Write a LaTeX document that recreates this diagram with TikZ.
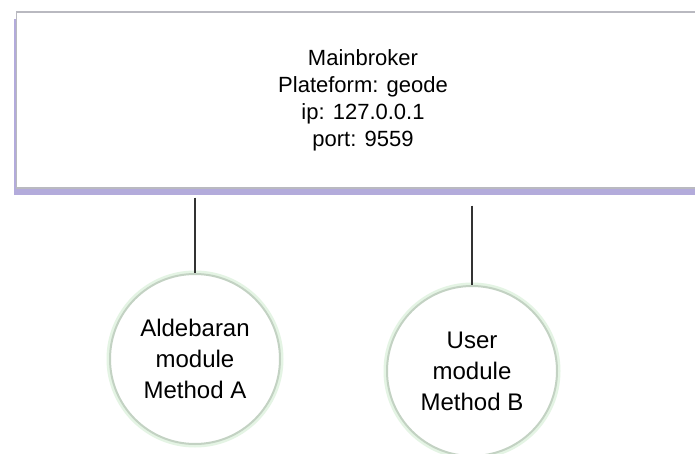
\documentclass[tikz,border=0pt]{standalone}
\usepackage{fontspec}
\setmainfont{Liberation Sans}
\usetikzlibrary{positioning}
\usetikzlibrary{shadows}
\definecolor{shadowviolet}{RGB}{160,150,210}
\definecolor{boxgray}{RGB}{185,185,192}
\definecolor{ringgreen}{RGB}{195,210,195}
\definecolor{glowgreen}{RGB}{228,244,228}
\tikzset{
  broker/.style={draw=boxgray, fill=white, line width=1.5pt, minimum width=693pt, minimum height=176pt,
    align=center, font=\fontsize{22}{27}\selectfont,
    drop shadow={shadow xshift=-3pt, shadow yshift=-7pt, fill=shadowviolet, opacity=0.8}},
  module/.style={circle, draw=ringgreen, line width=2pt, fill=white, minimum size=170pt, inner sep=0pt,
    align=center, font=\fontsize{24}{31}\selectfont, preaction={draw=glowgreen, line width=7pt}},
  link/.style={draw=black!80, line width=1.2pt}
}

\begin{document}
\begin{tikzpicture}[x=1pt, y=-1pt]
  \path[use as bounding box, fill=white] (0,0) rectangle (695,454);
  \clip (0,0) rectangle (695,454);
  \node[broker] (mainbroker) at (363,100) {Mainbroker\\Plateform: geode\\ip: 127.0.0.1\\port: 9559};
  \node[module] (moduleA) at (195,359) {Aldebaran\\module\\Method A};
  \node[module] (moduleB) at (472,371) {User\\module\\Method B};
  \draw[link, shorten <=9pt] (mainbroker.south -| moduleA.north) -- (moduleA.north);
  \draw[link, shorten <=17pt] (mainbroker.south -| moduleB.north) -- (moduleB.north);
\end{tikzpicture}
\end{document}
